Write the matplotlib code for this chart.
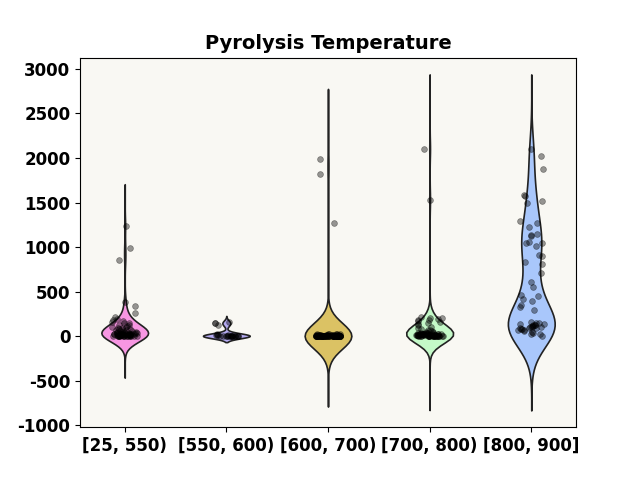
import numpy as np
import pandas as pd
import matplotlib
matplotlib.use("Agg")
import matplotlib.pyplot as plt
import seaborn as sns

plt.rcParams['axes.unicode_minus'] = False

# categorias de temperatura
labels = ["[25, 550)", "[550, 600)", "[600, 700)", "[700, 800)", "[800, 900]"]

# valores
g1 = [1240, 990, 860, 383, 340, 260, 215, 190, 185, 175, 160, 150, 145, 130,
      120, 115, 105, 100, 95, 90, 85, 80, 75, 70, 65, 60, 55, 50, 50, 45, 40,
      40, 35, 30, 30, 25, 25, 20, 20, 15, 15, 10, 10, 8, 5, 5, 3, 0, 0,
      45, 40, 35, 32, 30, 28, 25, 22, 20, 18, 15, 12, 10, 8, 6, 5, 4, 3, 2,
      1, 0, 0, 0, 0, 0]
g2 = [160, 150, 145, 120, 20, 15, 12, 10, 8, 6, 5, 4, 3, 2, 1,
      0, 0, 0, 0, 0, 0, 0, 0, 0, 0]
g3 = [1985, 1823, 1271, 30, 28, 25, 22, 20, 20, 18, 16, 15, 15, 14, 12, 12,
      11, 10, 10, 10, 9, 8, 8, 8, 7, 6, 6, 5, 5, 5, 5, 4, 4, 3, 3, 3, 2, 2,
      2, 1, 1, 1, 0, 0, 0, 0, 0, 0, 0, 0, 0, 0, 0, 0, 0, 0, 0, 0, 0, 0, 0,
      0, 0, 0, 0, 0, 0, 0, 0, 0, 0, 0, 0, 0, 0, 0, 0, 0, 0, 0, 0, 0, 0, 0,
      0, 0, 0, 0, 0, 0]
g4 = [2105, 1533, 218, 205, 200, 190, 185, 180, 175, 160, 150, 140, 120, 100,
      90, 80, 75, 70, 60, 50, 45, 40, 35, 30, 30, 25, 20, 20, 15, 10, 10, 5,
      5, 3, 0, 0, 0, 40, 38, 35, 33, 30, 28, 26, 25, 24, 22, 20, 20, 18, 17,
      16, 15, 14, 12, 12, 10, 10, 9, 8, 7, 6, 5, 5, 4, 3, 3, 2, 2, 1, 1, 0,
      0, 0, 0, 0, 0]
g5 = [2105, 2022, 1872, 1590, 1570, 1515, 1490, 1290, 1270, 1225, 1150, 1130,
      1128, 1052, 1050, 1045, 1015, 913, 895, 835, 812, 707, 605, 550, 462,
      450, 414, 398, 350, 323, 293, 160, 150, 145, 140, 135, 130, 125, 120,
      115, 110, 105, 100, 100, 95, 90, 90, 85, 80, 75, 70, 60, 50, 40, 30,
      20, 0]
groups = [g1, g2, g3, g4, g5]

colors = ["#f796e2", "#b4aaf0", "#dbc264", "#c4f9c8", "#a9c7fb"]
# largura de banda e corte ajustados por grupo
bws = [1.0, 1.0, 1.15, 0.8, 0.85]
cuts = [5.25, 2.4, 5.45, 8.4, 3.7]

df = pd.DataFrame({
    "temp": np.concatenate([[l] * len(g) for l, g in zip(labels, groups)]),
    "val": np.concatenate(groups),
})

np.random.seed(3)
fig, ax = plt.subplots(figsize=(6.4, 4.8), dpi=100)
ax.set_facecolor("#f9f8f3")

for lab, g, col, b, c in zip(labels, groups, colors, bws, cuts):
    sns.violinplot(x=[lab] * len(g), y=g, order=labels, color=col, cut=c,
                   bw_adjust=b, density_norm="width", inner=None, width=0.46,
                   linecolor="#222222", linewidth=1.2, saturation=1, ax=ax)

sns.stripplot(data=df, x="temp", y="val", order=labels, color="black",
              alpha=0.4, size=4.2, jitter=0.13, linewidth=0.5,
              edgecolor="black", ax=ax)

ax.set_xlim(-0.44, 4.44)
ax.set_xlabel("")
ax.set_ylabel("")
ax.set_title("Pyrolysis Temperature", fontsize=14, fontweight="bold")
for t in ax.get_xticklabels():
    t.set_fontsize(12)
    t.set_fontweight("bold")
for t in ax.get_yticklabels():
    t.set_fontsize(12)
    t.set_fontweight("bold")

plt.savefig("out.png", dpi=100)
